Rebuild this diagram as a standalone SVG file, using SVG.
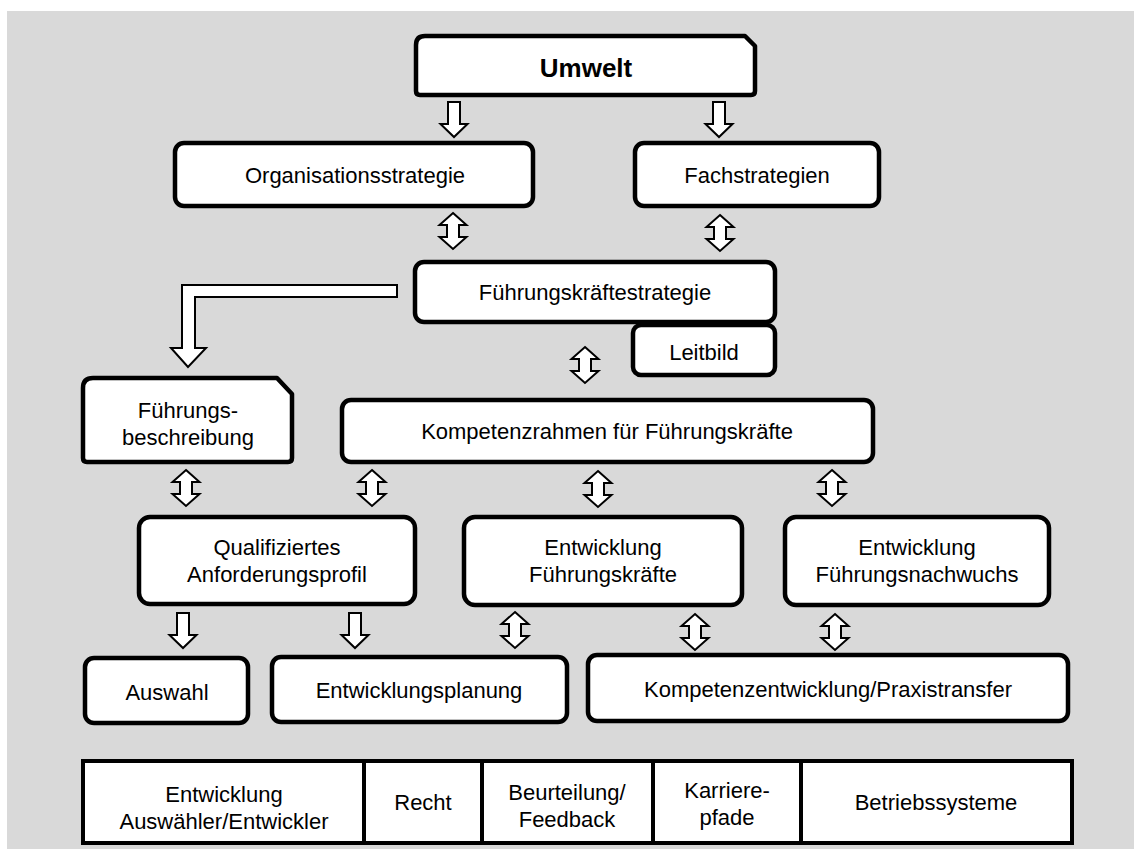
<svg xmlns="http://www.w3.org/2000/svg" xmlns:xlink="http://www.w3.org/1999/xlink" width="1134" height="849" viewBox="0 0 1134 849">
<style>
.box{fill:#fff;stroke:#000;stroke-width:4.5;stroke-linejoin:round}
.cell{fill:#fff;stroke:#000;stroke-width:4}
.arr{fill:#fff;stroke:#000;stroke-width:2;stroke-linejoin:miter}
text{font-family:"Liberation Sans",Arial,sans-serif;font-size:22px;fill:#000;text-anchor:middle}
.b{font-weight:bold;font-size:26px}
</style>
<defs>
<polygon id="dbl" class="arr" points="0,0 13.5,12 6,12 6,24 13.5,24 0,36 -13.5,24 -6,24 -6,12 -13.5,12"/>
<polygon id="down" class="arr" points="-6,0 6,0 6,22 13.5,22 0,35 -13.5,22 -6,22"/>
</defs>
<rect x="7" y="11" width="1127" height="838" fill="#d9d9d9"/>

<g id="connectors">
<use xlink:href="#down" x="454" y="102"/>
<use xlink:href="#down" x="719" y="102"/>
<use xlink:href="#dbl" x="453" y="213"/>
<use xlink:href="#dbl" x="720" y="215"/>
<use xlink:href="#dbl" x="585" y="347"/>
<use xlink:href="#dbl" x="186" y="470"/>
<use xlink:href="#dbl" x="372" y="470"/>
<use xlink:href="#dbl" x="598" y="471"/>
<use xlink:href="#dbl" x="832" y="470"/>
<use xlink:href="#down" x="183" y="613"/>
<use xlink:href="#down" x="355" y="613"/>
<use xlink:href="#dbl" x="515" y="612"/>
<use xlink:href="#dbl" x="695" y="614"/>
<use xlink:href="#dbl" x="835" y="614"/>
<polygon class="arr" points="397,285 182,285 182,348 171,348 188,367 206,348 195,348 195,297 397,297"/>
</g>

<g id="umwelt">
<path class="box" d="M416,45 Q416,36 425,36 L745,36 L755,46 L755,91 Q755,95 751,95 L420,95 Q416,95 416,91 Z"/>
<text class="b" x="586" y="77">Umwelt</text>
</g>
<g id="organisationsstrategie">
<rect class="box" x="175" y="143" width="358" height="63" rx="9"/>
<text x="355" y="183">Organisationsstrategie</text>
</g>
<g id="fachstrategien">
<rect class="box" x="635" y="143" width="244" height="63" rx="9"/>
<text x="757" y="183">Fachstrategien</text>
</g>
<g id="fuehrungskraeftestrategie">
<rect class="box" x="415" y="262" width="360" height="60" rx="9"/>
<text x="595" y="300">Führungskräftestrategie</text>
</g>
<g id="leitbild">
<rect class="box" x="633" y="325" width="142" height="50" rx="8"/>
<text x="704" y="360">Leitbild</text>
</g>
<g id="fuehrungsbeschreibung">
<path class="box" d="M83,388 Q83,378 93,378 L277,378 L292,394 L292,458 Q292,462 288,462 L87,462 Q83,462 83,458 Z"/>
<text x="188" y="418">Führungs-</text>
<text x="188" y="445">beschreibung</text>
</g>
<g id="kompetenzrahmen">
<rect class="box" x="342" y="400" width="531" height="62" rx="9"/>
<text x="607" y="439">Kompetenzrahmen für Führungskräfte</text>
</g>
<g id="anforderungsprofil">
<rect class="box" x="139" y="517" width="276" height="87" rx="11"/>
<text x="277" y="555">Qualifiziertes</text>
<text x="277" y="582">Anforderungsprofil</text>
</g>
<g id="entwicklung-fk">
<rect class="box" x="464" y="517" width="278" height="88" rx="11"/>
<text x="603" y="555">Entwicklung</text>
<text x="603" y="582">Führungskräfte</text>
</g>
<g id="entwicklung-nachwuchs">
<rect class="box" x="785" y="517" width="264" height="88" rx="11"/>
<text x="917" y="555">Entwicklung</text>
<text x="917" y="582">Führungsnachwuchs</text>
</g>
<g id="auswahl">
<rect class="box" x="85" y="658" width="163" height="65" rx="9"/>
<text x="167" y="700">Auswahl</text>
</g>
<g id="entwicklungsplanung">
<rect class="box" x="272" y="657" width="295" height="65" rx="9"/>
<text x="419" y="698">Entwicklungsplanung</text>
</g>
<g id="kompetenzentwicklung">
<rect class="box" x="588" y="655" width="480" height="66" rx="9"/>
<text x="828" y="697">Kompetenzentwicklung/Praxistransfer</text>
</g>
<g id="table">
<rect class="cell" x="83" y="761" width="989" height="82"/>
<line class="cell" x1="364" y1="761" x2="364" y2="843"/>
<line class="cell" x1="482" y1="761" x2="482" y2="843"/>
<line class="cell" x1="653" y1="761" x2="653" y2="843"/>
<line class="cell" x1="801" y1="761" x2="801" y2="843"/>
<text x="224" y="802">Entwicklung</text>
<text x="224" y="829">Auswähler/Entwickler</text>
<text x="423" y="810">Recht</text>
<text x="567" y="800">Beurteilung/</text>
<text x="567" y="827">Feedback</text>
<text x="727" y="798">Karriere-</text>
<text x="727" y="825">pfade</text>
<text x="936" y="810">Betriebssysteme</text>
</g>
</svg>
